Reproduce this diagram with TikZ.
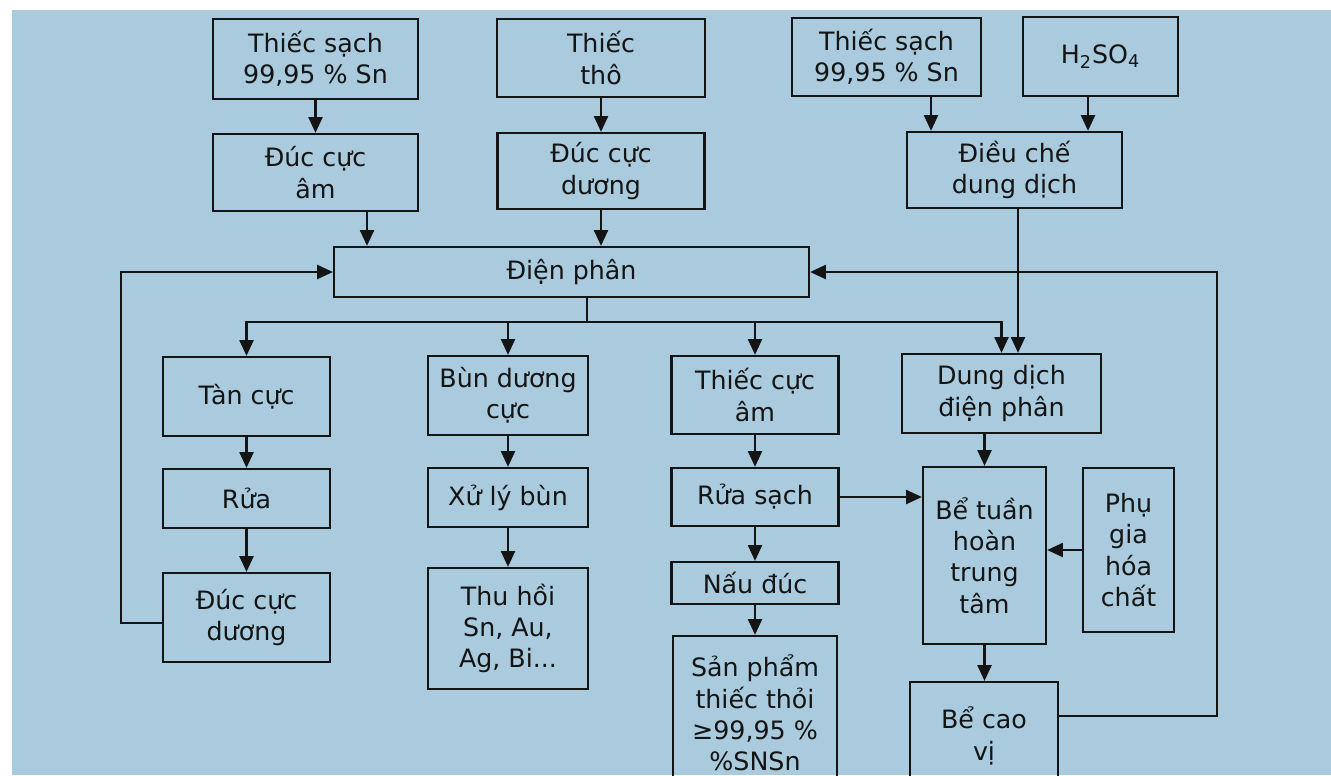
\documentclass[tikz,border=0pt]{standalone}
\usepackage{fontspec}
\setmainfont{DejaVu Sans}
\usepackage{tikz}
\usetikzlibrary{arrows.meta,positioning}
\definecolor{nenxanh}{RGB}{170,203,222}
\definecolor{netden}{RGB}{20,20,20}
\tikzset{
  hop/.style={draw=netden,line width=1.3pt,inner sep=0pt,align=center,
    font=\fontsize{14.4}{17.8}\selectfont,text=netden},
  ten/.style={->,>={Triangle[length=9pt,width=8pt]},netden,line width=1.2pt},
  duong/.style={netden,line width=1.2pt}
}

\begin{document}
\begin{tikzpicture}[x=0.02cm,y=-0.02cm]
\clip (0,0) rectangle (1331,775);
\fill[white] (0,0) rectangle (1331,775);
\fill[nenxanh] (12,10) rectangle (1331,775);
% hang tren
\node[hop,minimum width=4.10cm,minimum height=1.60cm] (tsach1) at (315.5,59) {Thiếc sạch\\99,95 \% Sn};
\node[hop,minimum width=4.10cm,minimum height=1.54cm] (ducam) at (315.5,172.5) {Đúc cực\\âm};
\node[hop,minimum width=4.16cm,minimum height=1.56cm] (thitho) at (601,58) {Thiếc\\thô};
\node[hop,minimum width=4.14cm,minimum height=1.52cm] (ducduong) at (601,171) {Đúc cực\\dương};
\node[hop,minimum width=3.78cm,minimum height=1.56cm] (tsach2) at (886.5,57) {Thiếc sạch\\99,95 \% Sn};
\node[hop,minimum width=3.10cm,minimum height=1.58cm] (axit) at (1100.5,56.5) {H\textsubscript{2}SO\textsubscript{4}};
\node[hop,minimum width=4.30cm,minimum height=1.52cm] (dieuche) at (1014.5,170) {Điều chế\\dung dịch};
\node[hop,minimum width=9.50cm,minimum height=1.00cm] (dienphan) at (571.5,272) {Điện phân};
% nhanh duoi
\node[hop,minimum width=3.34cm,minimum height=1.58cm] (tancuc) at (246.5,396.5) {Tàn cực};
\node[hop,minimum width=3.34cm,minimum height=1.18cm] (rua) at (246.5,498.5) {Rửa};
\node[hop,minimum width=3.34cm,minimum height=1.78cm] (ducduong2) at (246.5,617.5) {Đúc cực\\dương};
\node[hop,minimum width=3.20cm,minimum height=1.58cm] (bun) at (508,395.5) {Bùn dương\\cực};
\node[hop,minimum width=3.20cm,minimum height=1.18cm] (xuly) at (508,497.5) {Xử lý bùn};
\node[hop,minimum width=3.20cm,minimum height=2.42cm] (thuhoi) at (508,628.5) {Thu hồi\\Sn, Au,\\Ag, Bi...};
\node[hop,minimum width=3.34cm,minimum height=1.56cm] (thieccucam) at (755,395) {Thiếc cực\\âm};
\node[hop,minimum width=3.34cm,minimum height=1.16cm] (ruasach) at (755,497) {Rửa sạch};
\node[hop,minimum width=3.34cm,minimum height=0.84cm] (nauduc) at (755,583) {Nấu đúc};
\node[hop,minimum width=3.28cm,minimum height=3.08cm] (sanpham) at (755,713) {Sản phẩm\\thiếc thỏi\\≥99,95 \%\\\%SNSn};
\node[hop,minimum width=3.98cm,minimum height=1.58cm] (dungdich) at (1001.5,393.5) {Dung dịch\\điện phân};
\node[hop,minimum width=2.46cm,minimum height=3.54cm] (betuan) at (984.5,555.5) {Bể tuần\\hoàn\\trung\\tâm};
\node[hop,minimum width=1.82cm,minimum height=3.28cm] (phugia) at (1128.5,550) {Phụ\\gia\\hóa\\chất};
\node[hop,minimum width=2.96cm,minimum height=2.16cm] (becao) at (984,736) {Bể cao\\vị};
% diem re va vong hoi luu
\coordinate (x1) at (367,0);
\coordinate (x2) at (931,0);
\coordinate (x3) at (1088,0);
\coordinate (x4) at (1018,0);
\coordinate (re) at (587,322);
\coordinate (hoi1) at (121,623);
\coordinate (hoi2) at (1217,716);
% mui ten
\draw[ten] (tsach1) -- (ducam);
\draw[ten] (ducam.south -| x1) -- (dienphan.north -| x1);
\draw[ten] (thitho) -- (ducduong);
\draw[ten] (ducduong.south) -- (ducduong.south |- dienphan.north);
\draw[ten] (tsach2.south -| x2) -- (dieuche.north -| x2);
\draw[ten] (axit.south -| x3) -- (dieuche.north -| x3);
\draw[ten] (dieuche.south -| x4) -- (dungdich.north -| x4);
\draw[duong] (dienphan.south -| re) -- (re);
\draw[ten] (re) -| (tancuc.north);
\draw[ten] (re) -| (dungdich.north);
\draw[ten] (re -| bun.north) -- (bun.north);
\draw[ten] (re -| thieccucam.north) -- (thieccucam.north);
\draw[ten] (tancuc) -- (rua);
\draw[ten] (rua) -- (ducduong2);
\draw[ten] (ducduong2.west |- hoi1) -- (hoi1) |- (dienphan.west);
\draw[ten] (bun) -- (xuly);
\draw[ten] (xuly) -- (thuhoi);
\draw[ten] (thieccucam) -- (ruasach);
\draw[ten] (ruasach) -- (nauduc);
\draw[ten] (nauduc) -- (sanpham);
\draw[ten] (ruasach.east) -- (ruasach.east -| betuan.west);
\draw[ten] (dungdich.south -| betuan.north) -- (betuan.north);
\draw[ten] (phugia.west) -- (phugia.west -| betuan.east);
\draw[ten] (betuan.south) -- (betuan.south |- becao.north);
\draw[ten] (becao.east |- hoi2) -- (hoi2) |- (dienphan.east);
\end{tikzpicture}
\end{document}
